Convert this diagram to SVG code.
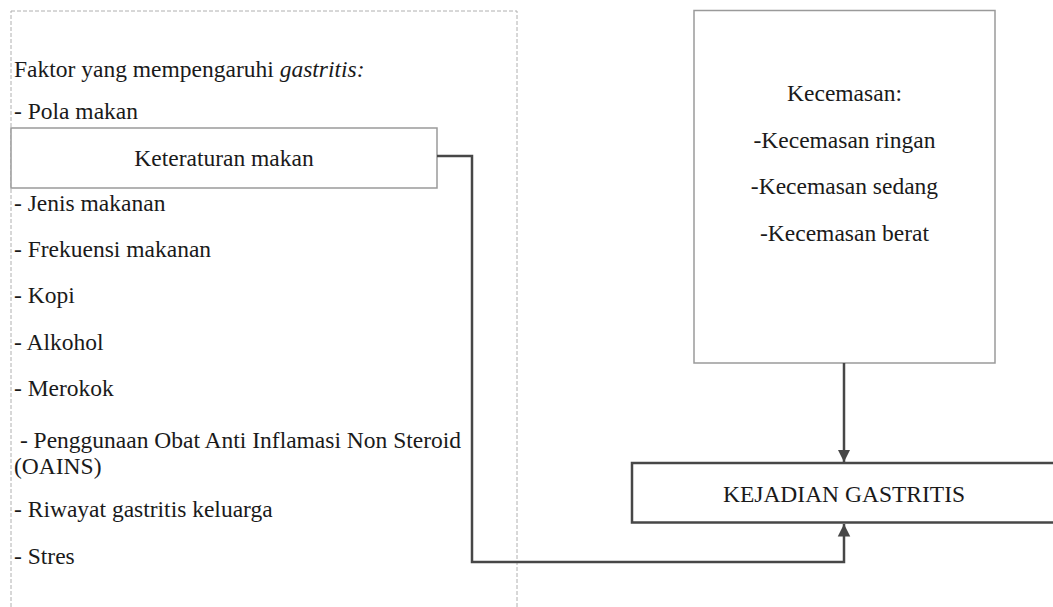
<svg xmlns="http://www.w3.org/2000/svg" width="1053" height="607" viewBox="0 0 1053 607">
  <style>
    text { font-family: "Liberation Serif", "Times New Roman", "DejaVu Serif", serif; font-size: 23.5px; fill: #1a1a1a; }
    .mid { text-anchor: middle; }
    .frame { fill: none; stroke: #b0b0b0; stroke-width: 1; stroke-dasharray: 4 2; }
    .light { fill: #ffffff; stroke: #9a9a9a; stroke-width: 1.5; }
    .dark { fill: #ffffff; stroke: #474747; stroke-width: 2.5; }
    .conn { fill: none; stroke: #474747; stroke-width: 2.5; }
  </style>
  <defs>
    <marker id="arrow" viewBox="0 0 10 10" refX="10" refY="5" markerWidth="5" markerHeight="5.5" markerUnits="strokeWidth" orient="auto">
      <path d="M0,0 L10,5 L0,10 z" fill="#474747"/>
    </marker>
  </defs>
  <rect width="1053" height="607" fill="#ffffff"/>

  <g id="factors">
    <rect class="frame" x="11" y="11" width="506" height="620"/>
    <text x="14" y="77">Faktor yang mempengaruhi <tspan font-style="italic">gastritis:</tspan></text>
    <text x="14" y="119">- Pola makan</text>
    <text x="14" y="211">- Jenis makanan</text>
    <text x="14" y="257">- Frekuensi makanan</text>
    <text x="14" y="303">- Kopi</text>
    <text x="14" y="350">- Alkohol</text>
    <text x="14" y="396">- Merokok</text>
    <text x="14" y="448" xml:space="preserve"> - Penggunaan Obat Anti Inflamasi Non Steroid</text>
    <text x="14" y="474">(OAINS)</text>
    <text x="14" y="517">- Riwayat gastritis keluarga</text>
    <text x="14" y="564">- Stres</text>
  </g>

  <g id="keteraturan">
    <rect class="light" x="11" y="128" width="426" height="60"/>
    <text class="mid" x="224" y="166">Keteraturan makan</text>
  </g>

  <g id="kecemasan">
    <rect class="light" x="694" y="10.5" width="301" height="352.5"/>
    <text class="mid" x="844.5" y="101">Kecemasan:</text>
    <text class="mid" x="844.5" y="147.5">-Kecemasan ringan</text>
    <text class="mid" x="844.5" y="194">-Kecemasan sedang</text>
    <text class="mid" x="844.5" y="240.5">-Kecemasan berat</text>
  </g>

  <g id="kejadian">
    <rect class="dark" x="632" y="463" width="440" height="59.5"/>
    <text class="mid" x="844" y="502">KEJADIAN GASTRITIS</text>
  </g>

  <g id="connectors">
    <path class="conn" d="M844,363 V462" marker-end="url(#arrow)"/>
    <path class="conn" d="M437,156 H472 V562 H844 V524" marker-end="url(#arrow)"/>
  </g>
</svg>
